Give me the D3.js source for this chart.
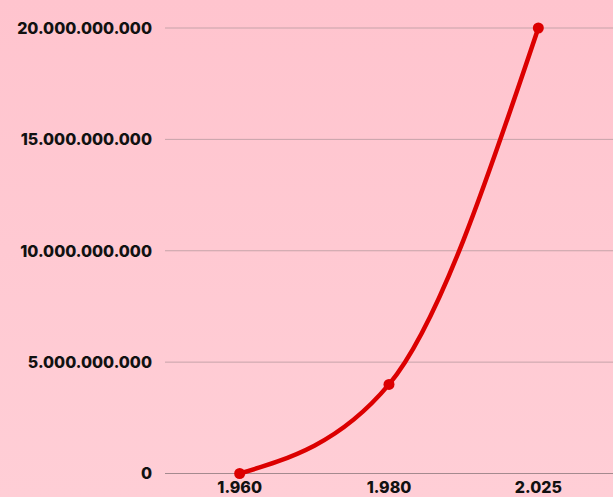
<!DOCTYPE html>
<html>
<head>
<meta charset="utf-8">
<script src="https://cdn.jsdelivr.net/npm/d3@7"></script>
<style>
  html, body { margin: 0; padding: 0; }
  body { width: 613px; height: 497px; overflow: hidden; }
  svg { display: block; font-family: Inter, "DejaVu Sans", sans-serif; }
  .lbl { font-weight: 800; font-size: 16px; fill: #111; }
</style>
</head>
<body>
<svg width="613" height="497"></svg>
<script>
// chart data
var years = [1960, 1980, 2025];
var values = [0, 4000000000, 20000000000];
var yTicks = [0, 5000000000, 10000000000, 15000000000, 20000000000];

var svg = d3.select("svg");
var width = +svg.attr("width");
var height = +svg.attr("height");

// dotted thousands separator
var loc = d3.formatLocale({decimal: ",", thousands: ".", grouping: [3], currency: ["", ""]});
var fmt = loc.format(",d");

// background
var defs = svg.append("defs");
var grad = defs.append("linearGradient").attr("id", "bg")
  .attr("x1", 0).attr("y1", 0).attr("x2", 0).attr("y2", 1);
grad.append("stop").attr("offset", "0%").attr("stop-color", "#ffc4ce");
grad.append("stop").attr("offset", "100%").attr("stop-color", "#ffced6");
svg.append("rect").attr("width", width).attr("height", height).attr("fill", "url(#bg)");

var left = 165, right = width;
var x = d3.scalePoint().domain(years).range([left, right]).padding(0.5);
var y = d3.scaleLinear().domain([0, 20000000000]).range([473.5, 28]);

// grid lines
svg.append("g").selectAll("line")
  .data(yTicks)
  .enter().append("line")
  .attr("x1", left).attr("x2", right)
  .attr("y1", d => y(d)).attr("y2", d => y(d))
  .attr("stroke", d => d === 0 ? "#a48a8f" : "#c6a3a9")
  .attr("stroke-width", 1);

// y labels
svg.append("g").selectAll("text")
  .data(yTicks)
  .enter().append("text")
  .attr("class", "lbl")
  .attr("x", 152)
  .attr("y", d => y(d))
  .attr("dy", "0.36em")
  .attr("text-anchor", "end")
  .text(d => fmt(d));

// x labels, kept just inside the bottom edge
svg.append("g").selectAll("text")
  .data(years)
  .enter().append("text")
  .attr("class", "lbl")
  .attr("x", d => x(d))
  .attr("y", 493)
  .attr("text-anchor", "middle")
  .text(d => fmt(d));

var pts = years.map((yr, i) => ({year: yr, value: values[i]}));

var line = d3.line()
  .x(d => x(d.year))
  .y(d => y(d.value))
  .curve(d3.curveMonotoneX);

svg.append("path")
  .datum(pts)
  .attr("d", line)
  .attr("fill", "none")
  .attr("stroke", "#dc0000")
  .attr("stroke-width", 4.5)
  .attr("stroke-linecap", "round");

svg.append("g").selectAll("circle")
  .data(pts)
  .enter().append("circle")
  .attr("cx", d => x(d.year))
  .attr("cy", d => y(d.value))
  .attr("r", 5.5)
  .attr("fill", "#dc0000");
</script>
</body>
</html>
